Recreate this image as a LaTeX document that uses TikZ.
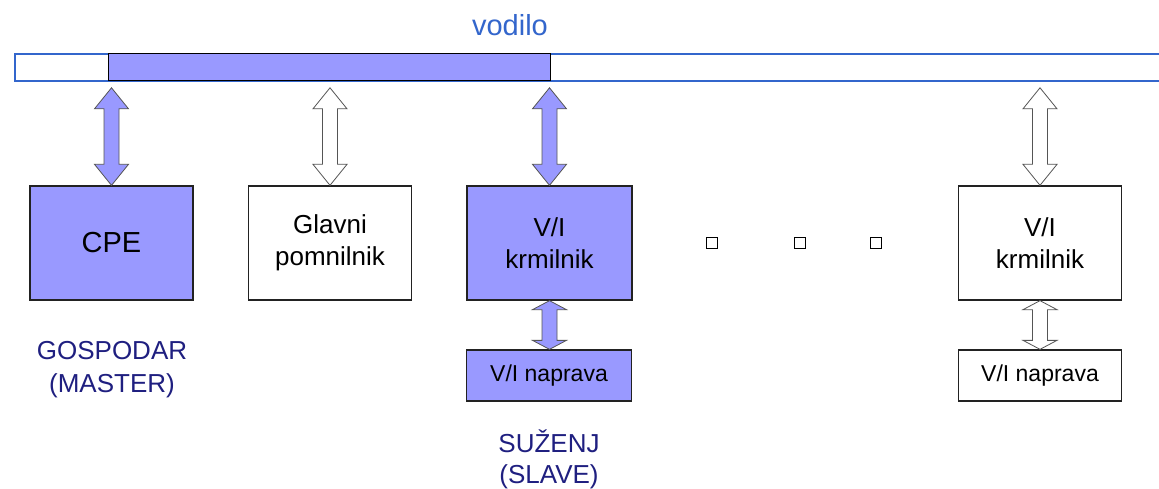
\documentclass[tikz,border=0pt]{standalone}
\usepackage{fontspec}
\setmainfont{Liberation Sans}
\usetikzlibrary{calc}
\definecolor{lav}{HTML}{9999FF}
\definecolor{busblue}{HTML}{3366CC}
\definecolor{navy}{HTML}{1F1F80}
\definecolor{edge}{HTML}{222222}
\definecolor{arr}{HTML}{555555}
\newcommand\dblarrow[4]{%
 \path[#1] let \p1=(#2), \p2=(#3) in
  (\x1,\y1) -- (\x1+17pt,\y1-#4pt) -- (\x1+7.5pt,\y1-#4pt) -- (\x1+7.5pt,\y2+#4pt)
  -- (\x1+17pt,\y2+#4pt) -- (\x1,\y2) -- (\x1-17pt,\y2+#4pt) -- (\x1-7.5pt,\y2+#4pt)
  -- (\x1-7.5pt,\y1-#4pt) -- (\x1-17pt,\y1-#4pt) -- cycle;}
\begin{document}
\begin{tikzpicture}[x=1pt,y=-1pt,
  box/.style={draw=edge,line width=1.3pt,minimum width=163pt,minimum height=114pt,
    inner sep=0pt,align=center,font=\fontsize{26}{32}\selectfont},
  smallbox/.style={draw=edge,line width=1.3pt,minimum width=165pt,minimum height=51pt,
    inner sep=0pt,align=center,font=\fontsize{23}{27}\selectfont},
  fillarr/.style={fill=lav,draw=arr,line width=0.8pt},
  openarr/.style={fill=white,draw=arr,line width=0.8pt},
  dotsq/.style={draw=black,line width=1.6pt,minimum size=11pt,inner sep=0pt},
  role/.style={text=navy,align=center,font=\fontsize{26}{33}\selectfont}]
\useasboundingbox[fill=white] (0,0) rectangle (1159,489);
% bus
\node[draw=busblue,line width=1.8pt,fill=white,minimum width=1150pt,minimum height=27pt,
  inner sep=0pt,anchor=north west] (bus) at (14,53) {};
\node[draw=black,line width=1.3pt,fill=lav,minimum width=442pt,minimum height=27pt,
  inner sep=0pt,anchor=north west] (busfill) at (108,53) {};
\node[text=busblue,font=\fontsize{29}{34}\selectfont] (vodilo) at (510,25) {vodilo};
% boxes
\node[box,fill=lav,font=\fontsize{29}{34}\selectfont] (cpe) at (111.5,243) {CPE};
\node[box,fill=white] (mem) at (330,243) {Glavni\\pomnilnik};
\node[box,fill=lav,minimum width=165pt] (krm1) at (549.5,243) {V/I\\krmilnik};
\node[box,fill=white] (krm2) at (1040,243) {V/I\\krmilnik};
\node[smallbox,fill=lav] (nap1) at (549,375.5) {V/I naprava};
\node[smallbox,fill=white,minimum width=163pt] (nap2) at (1040,375.5) {V/I naprava};
% dots
\node[dotsq] (d1) at (712,243) {};
\node[dotsq] (d2) at (800,243) {};
\node[dotsq] (d3) at (876,243) {};
% arrows
\dblarrow{fillarr}{$(cpe.north |- bus.south)+(0,6)$}{cpe.north}{21}
\dblarrow{openarr}{$(mem.north |- bus.south)+(0,6)$}{mem.north}{21}
\dblarrow{fillarr}{$(krm1.north |- bus.south)+(0,6)$}{krm1.north}{21}
\dblarrow{openarr}{$(krm2.north |- bus.south)+(0,6)$}{krm2.north}{21}
\dblarrow{fillarr}{krm1.south}{nap1.north}{9}
\dblarrow{openarr}{krm2.south}{nap2.north}{9}
% role labels
\node[role] (master) at (112,370) {GOSPODAR\\(MASTER)};
\node[role,font=\fontsize{26}{31}\selectfont] (slave) at (549,459.5) {SUŽENJ\\(SLAVE)};
\end{tikzpicture}
\end{document}
